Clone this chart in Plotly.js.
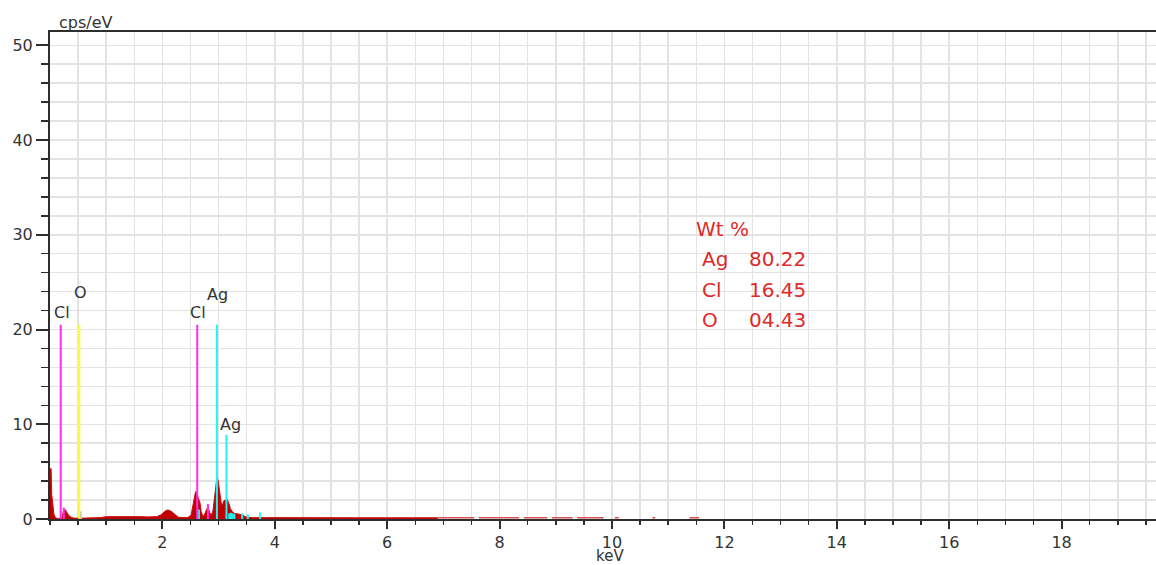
<!DOCTYPE html>
<html>
<head>
<meta charset="utf-8">
<script src="https://cdn.plot.ly/plotly-3.0.1.min.js"></script>
<style>
  html, body { margin: 0; padding: 0; background: #ffffff; }
  #chart { width: 1156px; height: 565px; }
</style>
</head>
<body>
<div id="chart"></div>
<script>
// ---- Spectrum (keV vs cps/eV) ----
const energy = [
  0.00, 0.02, 0.03, 0.05, 0.07, 0.10, 0.15, 0.21, 0.24, 0.27, 0.30, 0.33, 0.37, 0.42,
  0.50, 0.60, 0.75, 0.90, 1.00, 1.15, 1.30, 1.40, 1.50, 1.60, 1.75, 1.90, 1.98, 2.04,
  2.09, 2.13, 2.18, 2.23, 2.28, 2.35, 2.45, 2.51, 2.54, 2.57, 2.59, 2.61, 2.63, 2.65,
  2.67, 2.69, 2.72, 2.75, 2.78, 2.81, 2.84, 2.87, 2.90, 2.93, 2.95, 2.97, 2.99, 3.01,
  3.03, 3.05, 3.07, 3.09, 3.12, 3.15, 3.18, 3.21, 3.24, 3.28, 3.33, 3.38, 3.42, 3.46,
  3.50, 3.60, 4.00, 4.50, 5.00, 5.50, 6.00, 6.50, 6.90
];
const counts = [
  5.3, 5.3, 2.6, 1.8, 0.5, 0.1, 0.05, 0.1, 0.9, 1.0, 0.7, 0.4, 0.2, 0.1,
  0.08, 0.1, 0.12, 0.15, 0.25, 0.25, 0.28, 0.3, 0.28, 0.25, 0.22, 0.25, 0.45, 0.8,
  0.95, 0.9, 0.7, 0.4, 0.2, 0.15, 0.15, 0.4, 1.3, 2.5, 2.9, 2.7, 2.3, 2.1,
  1.7, 0.8, 0.3, 0.5, 0.9, 1.3, 0.7, 0.4, 0.9, 2.6, 3.8, 4.4, 4.1, 3.2,
  2.2, 1.6, 1.5, 1.9, 2.0, 2.1, 1.7, 1.1, 0.8, 0.6, 0.55, 0.5, 0.45, 0.3,
  0.2, 0.15, 0.13, 0.13, 0.13, 0.13, 0.13, 0.13, 0.13
];
// faint, broken tail of the spectrum (null = gap)
const tailEnergy = [
  6.90, 7.55, 7.60, 7.63, 8.35, 8.40, 8.43, 8.85, 8.90, 8.93, 9.30, 9.35, 9.38, 9.85,
  9.90, 10.05, 10.12, 10.15, 10.72, 10.77, 10.80, 11.38, 11.55
];
const tailCounts = [
  0.13, 0.13, null, 0.13, 0.13, null, 0.13, 0.13, null, 0.13, 0.13, null, 0.13, 0.13,
  null, 0.13, 0.13, null, 0.13, 0.13, null, 0.13, 0.13
];

// ---- Element marker lines (energy keV, height cps/eV) ----
const peakElements = ['Cl', 'O', 'Cl', 'Ag', 'Ag'];
const peakEnergy   = [0.19, 0.52, 2.62, 2.97, 3.14];
const peakHeight   = [20.5, 20.5, 20.5, 20.5, 8.9];

// small marker lines without labels
const minorElements = ['Cl', 'O', 'Ag', 'Cl', 'Ag', 'Ag', 'Ag', 'Ag', 'Ag', 'Ag', 'Ag'];
const minorEnergy   = [0.245, 0.55, 2.65, 2.81, 3.19, 3.22, 3.25, 3.28, 3.42, 3.52, 3.74];
const minorHeight   = [1.2, 0.8, 1.0, 1.6, 0.6, 0.65, 0.6, 0.55, 0.6, 0.5, 0.7];

// ---- Weight-percent table ----
const wtElements = ['Ag', 'Cl', 'O'];
const wtValues   = ['80.22', '16.45', '04.43'];

// ---- Axis ticks ----
const xTickVals = [2, 4, 6, 8, 10, 12, 14, 16, 18];
const yTickVals = [0, 10, 20, 30, 40, 50];

// ---------------------------------------------------------------
const elementColor = { Cl: '#ff2cf4', O: '#ffff22', Ag: '#22f4f4' };
const minorColor   = { Cl: '#ff2cf4', O: '#c8c8c8', Ag: '#22f4f4' };

function stickTrace(elements, energies, heights, colorMap, width) {
  const traces = [];
  const groups = {};
  elements.forEach((el, i) => {
    const key = colorMap[el];
    if (!groups[key]) groups[key] = { x: [], y: [] };
    groups[key].x.push(energies[i], energies[i], null);
    groups[key].y.push(0, heights[i], null);
  });
  Object.keys(groups).forEach(c => {
    traces.push({
      type: 'scatter', mode: 'lines', x: groups[c].x, y: groups[c].y,
      line: { color: c, width: width }, hoverinfo: 'skip', showlegend: false,
      connectgaps: false
    });
  });
  return traces;
}

const traces = [
  {
    type: 'scatter', mode: 'lines', x: energy, y: counts,
    fill: 'tozeroy', fillcolor: '#c00000',
    line: { color: '#c81010', width: 1 },
    connectgaps: false, showlegend: false, hoverinfo: 'skip'
  },
  {
    type: 'scatter', mode: 'lines', x: tailEnergy, y: tailCounts,
    line: { color: '#d85050', width: 1.5 },
    connectgaps: false, showlegend: false, hoverinfo: 'skip'
  },
  ...stickTrace(minorElements, minorEnergy, minorHeight, minorColor, 2),
  ...stickTrace(peakElements, peakEnergy, peakHeight, elementColor, 2)
];

const labelFont = { family: 'DejaVu Sans, Verdana, sans-serif', size: 16, color: '#333333' };
const labelShift = [12, 32, 12, 30, 10];
const labelXShift = [1, 1, 1, 1, 4];

const annotations = [];
peakElements.forEach((el, i) => {
  annotations.push({
    xref: 'x', yref: 'y', x: peakEnergy[i], y: peakHeight[i],
    text: el, showarrow: false, font: labelFont,
    xanchor: 'center', yanchor: 'middle',
    yshift: labelShift[i], xshift: labelXShift[i]
  });
});

// Axis titles
annotations.push({
  xref: 'paper', yref: 'paper', x: 0.006, y: 1.0205, xanchor: 'left', yanchor: 'middle',
  text: 'cps/eV', showarrow: false, font: labelFont
});
annotations.push({
  xref: 'paper', yref: 'paper', x: 0.506, y: -0.077, xanchor: 'center', yanchor: 'middle',
  text: 'keV', showarrow: false, font: { family: labelFont.family, size: 15, color: '#333333' }
});

// Wt % block (paper coords: plot spans x 50..1156, y 32..519 px)
const wtFont = { family: 'DejaVu Sans, Arial, sans-serif', size: 20, color: '#e02a2a' };
function px2paperX(px) { return (px - 50) / 1106; }
function px2paperY(py) { return (519 - py) / 487; }
annotations.push({
  xref: 'paper', yref: 'paper', x: px2paperX(694), y: px2paperY(229),
  xanchor: 'left', yanchor: 'middle', text: 'Wt %', showarrow: false, font: wtFont
});
const rowY = [259, 290, 320];
wtElements.forEach((el, i) => {
  annotations.push({
    xref: 'paper', yref: 'paper', x: px2paperX(700), y: px2paperY(rowY[i]),
    xanchor: 'left', yanchor: 'middle', text: el, showarrow: false, font: wtFont
  });
  annotations.push({
    xref: 'paper', yref: 'paper', x: px2paperX(747), y: px2paperY(rowY[i]),
    xanchor: 'left', yanchor: 'middle', text: wtValues[i], showarrow: false, font: wtFont
  });
});

const gridColor = '#e3e3e3';
const axisColor = '#2e2e2e';
const tickFont = { family: 'DejaVu Sans, Verdana, sans-serif', size: 16, color: '#333333' };

const layout = {
  width: 1156, height: 565,
  margin: { l: 50, r: 0, t: 32, b: 46, pad: 0 },
  paper_bgcolor: '#ffffff', plot_bgcolor: '#ffffff',
  showlegend: false,
  xaxis: {
    range: [0, 19.68], tickmode: 'array', tickvals: xTickVals, ticktext: xTickVals.map(String),
    ticks: 'outside', ticklen: 8, tickwidth: 2, tickcolor: axisColor,
    showline: true, linecolor: axisColor, linewidth: 2, mirror: true,
    showgrid: true, gridcolor: gridColor, gridwidth: 1.5, zeroline: false,
    tickfont: tickFont,
    minor: { dtick: 0.5, tick0: 0, ticks: 'outside', ticklen: 4, tickwidth: 1.5,
             tickcolor: axisColor, showgrid: true, gridcolor: gridColor, gridwidth: 1.5 },
    fixedrange: true
  },
  yaxis: {
    range: [0, 51.4], tickmode: 'array', tickvals: yTickVals, ticktext: yTickVals.map(String),
    ticks: 'outside', ticklen: 12, tickwidth: 2, tickcolor: axisColor,
    showline: true, linecolor: axisColor, linewidth: 2,
    showgrid: true, gridcolor: gridColor, gridwidth: 1.5, zeroline: false,
    tickfont: tickFont,
    minor: { dtick: 2, tick0: 0, ticks: 'outside', ticklen: 7, tickwidth: 1.5,
             tickcolor: axisColor, showgrid: true, gridcolor: gridColor, gridwidth: 1.5 },
    fixedrange: true
  },
  annotations: annotations
};

Plotly.newPlot('chart', traces, layout, { staticPlot: true, displayModeBar: false });
</script>
</body>
</html>
